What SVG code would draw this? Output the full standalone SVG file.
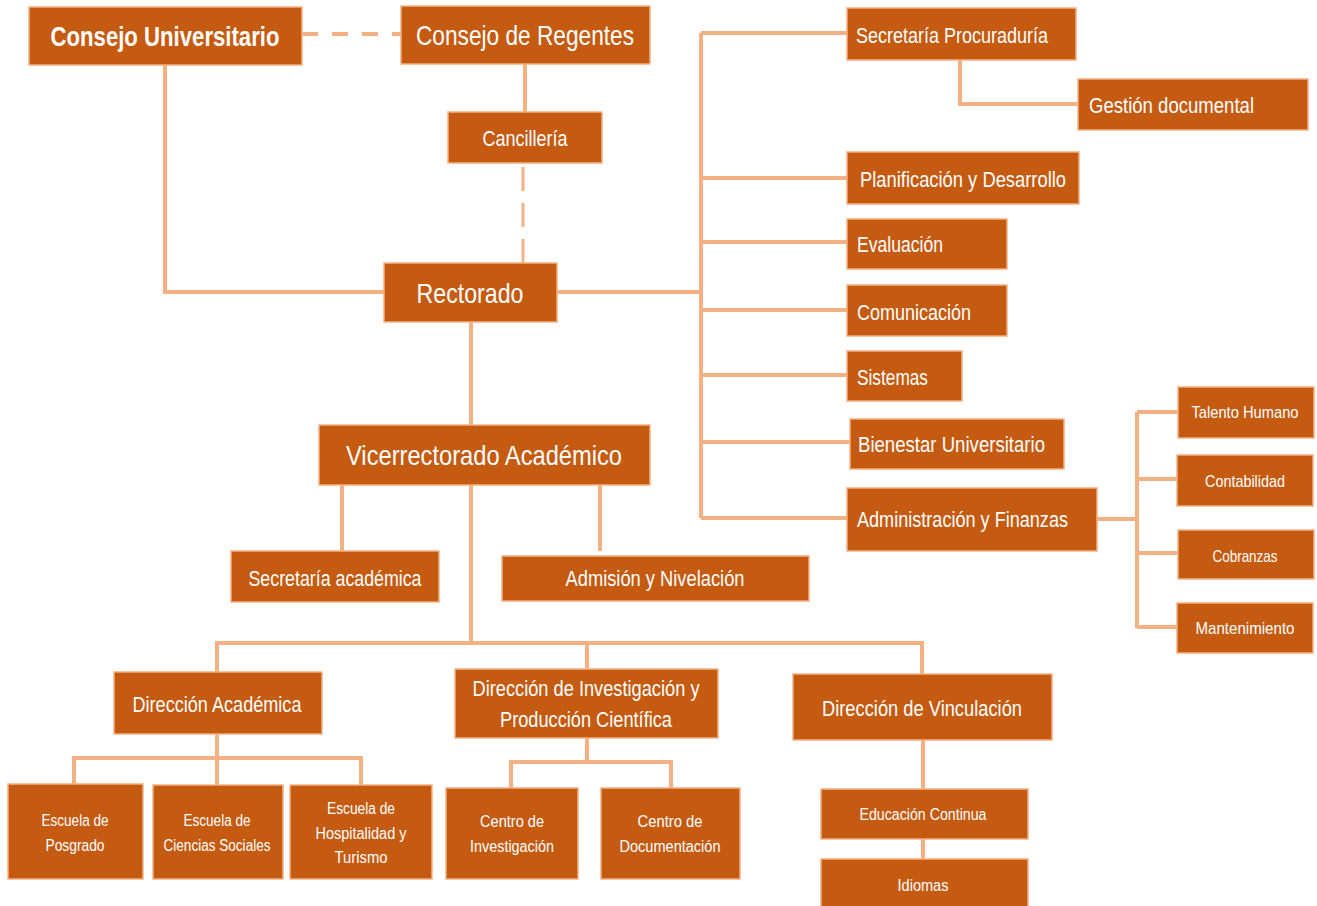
<svg xmlns="http://www.w3.org/2000/svg" width="1317" height="906" viewBox="0 0 1317 906">
<style>
.b{fill:#C55A11;stroke:#F4B183;stroke-width:1.5}
.t{fill:#FFFFFF;font-family:"Liberation Sans",Arial,sans-serif}
.c{text-anchor:middle}
.l{fill:none;stroke:#F4B183;stroke-width:4}
.d{fill:none;stroke:#F4B183;stroke-width:4;stroke-dasharray:16 14}
.d2{fill:none;stroke:#F4B183;stroke-width:3;stroke-dasharray:24 12}
.f28{font-size:28px}.f22{font-size:22px}.f17{font-size:17px}.f16{font-size:16px}
</style>
<rect width="1317" height="906" fill="#FFFFFF"/>
<g id="connectors">
<path class="d" d="M302 34H401"/>
<path class="l" d="M525 64V112"/>
<path class="d2" d="M523 263V163"/>
<path class="l" d="M165 65V292H384"/>
<path class="l" d="M557 292H701"/>
<path class="l" d="M701 33V518"/>
<path class="l" d="M701 33H847M701 178H847M701 242H847M701 310H847M701 375H847M701 442H850M701 518H847"/>
<path class="l" d="M960 60V104H1078"/>
<path class="l" d="M1097 519H1137M1137 412V628M1137 412H1178M1137 479H1177M1137 553H1178M1137 627H1177"/>
<path class="l" d="M471 322V425"/>
<path class="l" d="M342 485V551M600 485V551"/>
<path class="l" d="M471 485V643"/>
<path class="l" d="M217 672V643H922V674M587 643V669"/>
<path class="l" d="M217 734V758M74 784V758H361V785M217 758V785"/>
<path class="l" d="M587 738V762M511 788V762H671V788"/>
<path class="l" d="M923 740V789M923 839V859"/>
</g>
<g id="n-consejo-universitario"><rect class="b" x="29" y="7" width="273" height="58"/><text class="t c f28" x="165" y="46" font-weight="bold" textLength="229" lengthAdjust="spacingAndGlyphs">Consejo Universitario</text></g>
<g id="n-consejo-regentes"><rect class="b" x="401" y="6" width="249" height="58"/><text class="t c f28" x="525" y="45" textLength="218" lengthAdjust="spacingAndGlyphs">Consejo de Regentes</text></g>
<g id="n-cancilleria"><rect class="b" x="448" y="112" width="154" height="51"/><text class="t c f22" x="525" y="146" textLength="85" lengthAdjust="spacingAndGlyphs">Cancillería</text></g>
<g id="n-rectorado"><rect class="b" x="384" y="263" width="173" height="59"/><text class="t c f28" x="470" y="303" textLength="107" lengthAdjust="spacingAndGlyphs">Rectorado</text></g>
<g id="n-sec-procuraduria"><rect class="b" x="847" y="8" width="229" height="52"/><text class="t f22" x="856" y="43" textLength="192" lengthAdjust="spacingAndGlyphs">Secretaría Procuraduría</text></g>
<g id="n-gestion"><rect class="b" x="1078" y="79" width="230" height="51"/><text class="t f22" x="1089" y="113" textLength="165" lengthAdjust="spacingAndGlyphs">Gestión documental</text></g>
<g id="n-planificacion"><rect class="b" x="847" y="152" width="232" height="52"/><text class="t f22" x="860" y="187" textLength="206" lengthAdjust="spacingAndGlyphs">Planificación y Desarrollo</text></g>
<g id="n-evaluacion"><rect class="b" x="847" y="219" width="160" height="50"/><text class="t f22" x="857" y="252" textLength="86" lengthAdjust="spacingAndGlyphs">Evaluación</text></g>
<g id="n-comunicacion"><rect class="b" x="847" y="285" width="160" height="51"/><text class="t f22" x="857" y="320" textLength="114" lengthAdjust="spacingAndGlyphs">Comunicación</text></g>
<g id="n-sistemas"><rect class="b" x="847" y="351" width="115" height="50"/><text class="t f22" x="857" y="385" textLength="71" lengthAdjust="spacingAndGlyphs">Sistemas</text></g>
<g id="n-bienestar"><rect class="b" x="850" y="419" width="214" height="50"/><text class="t f22" x="858" y="452" textLength="187" lengthAdjust="spacingAndGlyphs">Bienestar Universitario</text></g>
<g id="n-administracion"><rect class="b" x="847" y="488" width="250" height="63"/><text class="t f22" x="857" y="527" textLength="211" lengthAdjust="spacingAndGlyphs">Administración y Finanzas</text></g>
<g id="n-talento"><rect class="b" x="1178" y="387" width="136" height="51"/><text class="t c f17" x="1245" y="418" textLength="107" lengthAdjust="spacingAndGlyphs">Talento Humano</text></g>
<g id="n-contabilidad"><rect class="b" x="1177" y="455" width="136" height="51"/><text class="t c f17" x="1245" y="487" textLength="80" lengthAdjust="spacingAndGlyphs">Contabilidad</text></g>
<g id="n-cobranzas"><rect class="b" x="1178" y="530" width="136" height="49"/><text class="t c f17" x="1245" y="562" textLength="65" lengthAdjust="spacingAndGlyphs">Cobranzas</text></g>
<g id="n-mantenimiento"><rect class="b" x="1177" y="603" width="136" height="50"/><text class="t c f17" x="1245" y="634" textLength="99" lengthAdjust="spacingAndGlyphs">Mantenimiento</text></g>
<g id="n-vicerrectorado"><rect class="b" x="319" y="425" width="331" height="60"/><text class="t c f28" x="484" y="465" textLength="276" lengthAdjust="spacingAndGlyphs">Vicerrectorado Académico</text></g>
<g id="n-sec-academica"><rect class="b" x="231" y="551" width="208" height="51"/><text class="t c f22" x="335" y="586" textLength="173" lengthAdjust="spacingAndGlyphs">Secretaría académica</text></g>
<g id="n-admision"><rect class="b" x="502" y="556" width="307" height="45"/><text class="t c f22" x="655" y="586" textLength="179" lengthAdjust="spacingAndGlyphs">Admisión y Nivelación</text></g>
<g id="n-dir-academica"><rect class="b" x="114" y="672" width="208" height="62"/><text class="t c f22" x="217" y="712" textLength="169" lengthAdjust="spacingAndGlyphs">Dirección Académica</text></g>
<g id="n-dir-investigacion"><rect class="b" x="455" y="669" width="263" height="69"/><text class="t c f22" x="586" y="696" textLength="227" lengthAdjust="spacingAndGlyphs">Dirección de Investigación y</text><text class="t c f22" x="586" y="727" textLength="172" lengthAdjust="spacingAndGlyphs">Producción Científica</text></g>
<g id="n-dir-vinculacion"><rect class="b" x="793" y="674" width="259" height="66"/><text class="t c f22" x="922" y="716" textLength="200" lengthAdjust="spacingAndGlyphs">Dirección de Vinculación</text></g>
<g id="n-posgrado"><rect class="b" x="8" y="784" width="135" height="95"/><text class="t c f16" x="75" y="826" textLength="67" lengthAdjust="spacingAndGlyphs">Escuela de</text><text class="t c f16" x="75" y="851" textLength="59" lengthAdjust="spacingAndGlyphs">Posgrado</text></g>
<g id="n-ciencias"><rect class="b" x="153" y="785" width="130" height="94"/><text class="t c f16" x="217" y="826" textLength="67" lengthAdjust="spacingAndGlyphs">Escuela de</text><text class="t c f16" x="217" y="851" textLength="107" lengthAdjust="spacingAndGlyphs">Ciencias Sociales</text></g>
<g id="n-hospitalidad"><rect class="b" x="290" y="785" width="142" height="94"/><text class="t c f16" x="361" y="814" textLength="68" lengthAdjust="spacingAndGlyphs">Escuela de</text><text class="t c f16" x="361" y="839" textLength="91" lengthAdjust="spacingAndGlyphs">Hospitalidad y</text><text class="t c f16" x="361" y="863" textLength="53" lengthAdjust="spacingAndGlyphs">Turismo</text></g>
<g id="n-centro-inv"><rect class="b" x="446" y="788" width="132" height="91"/><text class="t c f16" x="512" y="827" textLength="64" lengthAdjust="spacingAndGlyphs">Centro de</text><text class="t c f16" x="512" y="852" textLength="84" lengthAdjust="spacingAndGlyphs">Investigación</text></g>
<g id="n-centro-doc"><rect class="b" x="601" y="788" width="139" height="91"/><text class="t c f16" x="670" y="827" textLength="65" lengthAdjust="spacingAndGlyphs">Centro de</text><text class="t c f16" x="670" y="852" textLength="101" lengthAdjust="spacingAndGlyphs">Documentación</text></g>
<g id="n-educacion"><rect class="b" x="821" y="789" width="207" height="50"/><text class="t c f16" x="923" y="820" textLength="127" lengthAdjust="spacingAndGlyphs">Educación Continua</text></g>
<g id="n-idiomas"><rect class="b" x="821" y="859" width="207" height="50"/><text class="t c f16" x="923" y="891" textLength="51" lengthAdjust="spacingAndGlyphs">Idiomas</text></g>
</svg>
